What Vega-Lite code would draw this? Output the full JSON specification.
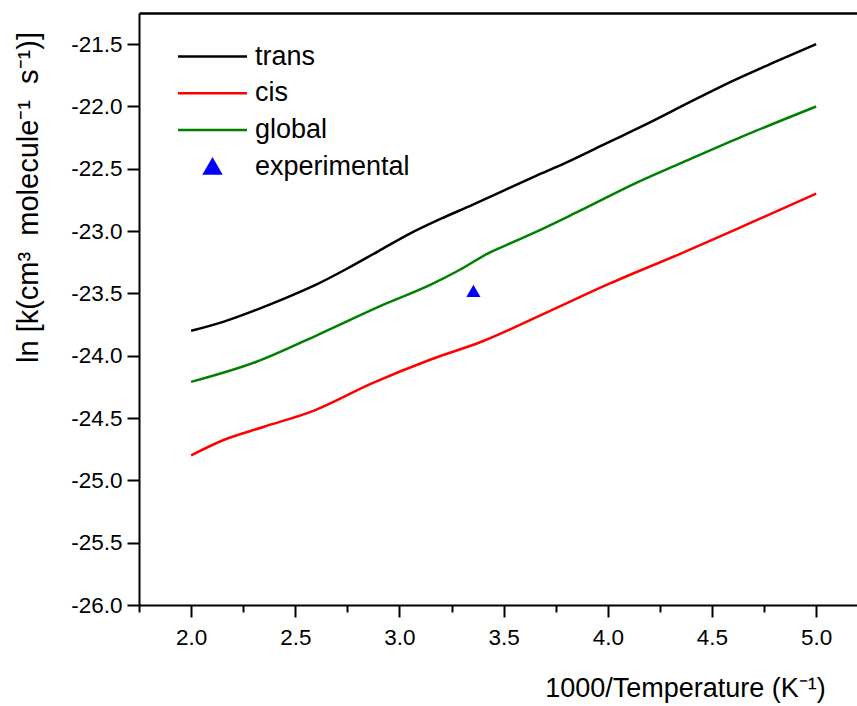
{
  "$schema": "https://vega.github.io/schema/vega-lite/v6.json",
  "width": 718,
  "height": 592,
  "autosize": {"type": "none"},
  "padding": {"left": 139, "top": 13, "right": 0, "bottom": 101},
  "background": "white",
  "config": {
    "view": {"stroke": null},
    "font": "Liberation Sans",
    "axis": {
      "domainColor": "black",
      "domainWidth": 2,
      "tickColor": "black",
      "tickWidth": 2,
      "labelColor": "black",
      "titleColor": "black",
      "labelFont": "Liberation Sans",
      "titleFont": "Liberation Sans",
      "labelFontSize": 22.5,
      "titleFontSize": 27,
      "titleFontWeight": "normal",
      "grid": false
    }
  },
  "datasets": {
    "curves": [
      {"series": "trans", "inv_T": 2.0, "lnk": -23.8},
      {"series": "trans", "inv_T": 2.15, "lnk": -23.73},
      {"series": "trans", "inv_T": 2.3, "lnk": -23.64},
      {"series": "trans", "inv_T": 2.45, "lnk": -23.54},
      {"series": "trans", "inv_T": 2.6, "lnk": -23.43},
      {"series": "trans", "inv_T": 2.75, "lnk": -23.3},
      {"series": "trans", "inv_T": 2.9, "lnk": -23.16},
      {"series": "trans", "inv_T": 3.05, "lnk": -23.02},
      {"series": "trans", "inv_T": 3.2, "lnk": -22.9},
      {"series": "trans", "inv_T": 3.35, "lnk": -22.79},
      {"series": "trans", "inv_T": 3.5, "lnk": -22.675},
      {"series": "trans", "inv_T": 3.65, "lnk": -22.56},
      {"series": "trans", "inv_T": 3.8, "lnk": -22.45},
      {"series": "trans", "inv_T": 4.0, "lnk": -22.29},
      {"series": "trans", "inv_T": 4.2, "lnk": -22.13},
      {"series": "trans", "inv_T": 4.4, "lnk": -21.96},
      {"series": "trans", "inv_T": 4.6, "lnk": -21.795},
      {"series": "trans", "inv_T": 4.8, "lnk": -21.645},
      {"series": "trans", "inv_T": 5.0, "lnk": -21.5},
      {"series": "cis", "inv_T": 2.0, "lnk": -24.8},
      {"series": "cis", "inv_T": 2.15, "lnk": -24.68},
      {"series": "cis", "inv_T": 2.35, "lnk": -24.57},
      {"series": "cis", "inv_T": 2.59, "lnk": -24.44},
      {"series": "cis", "inv_T": 2.87, "lnk": -24.22},
      {"series": "cis", "inv_T": 3.15, "lnk": -24.03},
      {"series": "cis", "inv_T": 3.39, "lnk": -23.89},
      {"series": "cis", "inv_T": 3.71, "lnk": -23.65},
      {"series": "cis", "inv_T": 4.01, "lnk": -23.42},
      {"series": "cis", "inv_T": 4.35, "lnk": -23.18},
      {"series": "cis", "inv_T": 4.61, "lnk": -22.99},
      {"series": "cis", "inv_T": 4.75, "lnk": -22.885},
      {"series": "cis", "inv_T": 5.0, "lnk": -22.7},
      {"series": "global", "inv_T": 2.0, "lnk": -24.21},
      {"series": "global", "inv_T": 2.311, "lnk": -24.05},
      {"series": "global", "inv_T": 2.611, "lnk": -23.83},
      {"series": "global", "inv_T": 2.91, "lnk": -23.6},
      {"series": "global", "inv_T": 3.15, "lnk": -23.43},
      {"series": "global", "inv_T": 3.29, "lnk": -23.31},
      {"series": "global", "inv_T": 3.43, "lnk": -23.175},
      {"series": "global", "inv_T": 3.55, "lnk": -23.085},
      {"series": "global", "inv_T": 3.65, "lnk": -23.01},
      {"series": "global", "inv_T": 3.85, "lnk": -22.85},
      {"series": "global", "inv_T": 4.147, "lnk": -22.605},
      {"series": "global", "inv_T": 4.348, "lnk": -22.457},
      {"series": "global", "inv_T": 4.647, "lnk": -22.24},
      {"series": "global", "inv_T": 5.0, "lnk": -22.0}
    ],
    "exp": [
      {"series": "experimental", "inv_T": 3.355, "lnk": -23.48}
    ]
  },
  "layer": [
    {
      "data": {"name": "curves"},
      "mark": {"type": "line", "strokeWidth": 2.5, "interpolate": "monotone"},
      "encoding": {
        "x": {
          "field": "inv_T",
          "type": "quantitative",
          "scale": {"domain": [1.75, 5.196], "nice": false, "zero": false},
          "axis": {
            "orient": "bottom",
            "values": [1.75, 2, 2.25, 2.5, 2.75, 3, 3.25, 3.5, 3.75, 4, 4.25, 4.5, 4.75, 5],
            "labelExpr": "abs(datum.value*2 - round(datum.value*2)) < 1e-6 ? format(datum.value, '.1f') : ''",
            "tickSize": {"condition": {"test": "abs(datum.value*2 - round(datum.value*2)) < 1e-6", "value": 12}, "value": 7},
            "labelPadding": 9,
            "labelFlush": false,
            "labelOverlap": false,
            "title": "1000/Temperature (K⁻¹)",
            "titleX": 546,
            "titleY": 83,
            "titleAlign": "center",
            "titleBaseline": "middle"
          }
        },
        "y": {
          "field": "lnk",
          "type": "quantitative",
          "scale": {"domain": [-26, -21.25], "nice": false, "zero": false},
          "axis": {
            "values": [-26, -25.75, -25.5, -25.25, -25, -24.75, -24.5, -24.25, -24, -23.75, -23.5, -23.25, -23, -22.75, -22.5, -22.25, -22, -21.75, -21.5, -21.25],
            "labelExpr": "abs(datum.value*2 - round(datum.value*2)) < 1e-6 ? replace(format(datum.value, '.1f'), '−', '-') : ''",
            "tickSize": {"condition": {"test": "abs(datum.value*2 - round(datum.value*2)) < 1e-6", "value": 12}, "value": 7},
            "labelPadding": 5,
            "labelFlush": false,
            "labelOverlap": false,
            "title": "ln [k(cm³\u00a0 molecule⁻¹\u00a0 s⁻¹)]",
            "titleFontSize": 29,
            "titleX": -111,
            "titleY": 184,
            "titleAngle": 270,
            "titleAlign": "center",
            "titleBaseline": "middle"
          }
        },
        "color": {
          "field": "series",
          "type": "nominal",
          "scale": {"domain": ["trans", "cis", "global", "experimental"], "range": ["#000000", "#ff0000", "#008000", "#0000ff"]},
          "legend": {
            "title": null,
            "orient": "none",
            "legendX": 60,
            "legendY": 30,
            "padding": 0,
            "labelFontSize": 27,
            "labelFont": "Liberation Sans",
            "labelColor": "black",
            "labelLimit": 0,
            "symbolSize": 529,
            "symbolStrokeWidth": 2.5,
            "rowPadding": 8.7,
            "labelOffset": 29,
            "encode": {
              "symbols": {
                "update": {
                  "shape": {"signal": "datum.value === 'experimental' ? 'triangle-up' : 'M-3,0H3'"},
                  "size": {"signal": "datum.value === 'experimental' ? 260 : 529"},
                  "fill": {"signal": "datum.value === 'experimental' ? '#0000ff' : 'transparent'"},
                  "stroke": {"signal": "datum.value === 'trans' ? '#000000' : datum.value === 'cis' ? '#ff0000' : datum.value === 'global' ? '#008000' : 'transparent'"},
                  "strokeWidth": {"value": 2.5},
                  "opacity": {"value": 1}
                }
              }
            }
          }
        }
      }
    },
    {
      "data": {"name": "exp"},
      "mark": {"type": "point", "shape": "triangle-up", "filled": true, "size": 200, "opacity": 1},
      "encoding": {
        "x": {
          "field": "inv_T",
          "type": "quantitative",
          "scale": {"domain": [1.75, 5.196], "nice": false, "zero": false},
          "axis": {"orient": "top", "labels": false, "ticks": false, "title": null, "domainWidth": 2.5}
        },
        "y": {"field": "lnk", "type": "quantitative"},
        "color": {"field": "series", "type": "nominal"}
      }
    }
  ],
  "resolve": {"axis": {"x": "independent"}}
}
